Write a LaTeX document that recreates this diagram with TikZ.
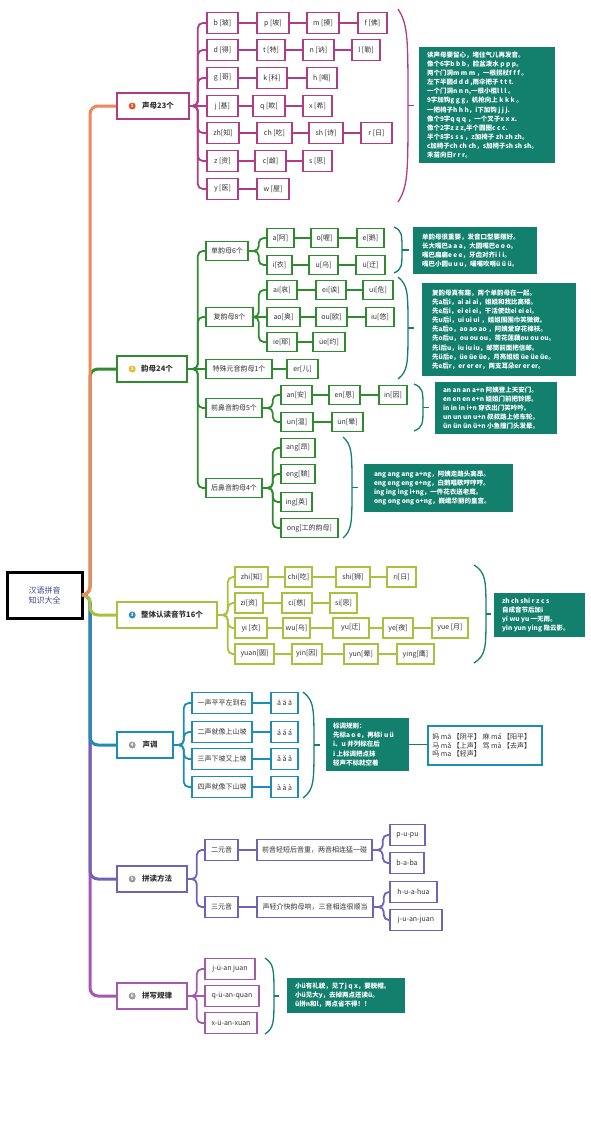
\documentclass[tikz,border=0pt]{standalone}
\usepackage{fontspec}
\setmainfont{Noto Sans CJK SC}
\definecolor{cOrange}{HTML}{F4875A}
\definecolor{cMag}{HTML}{B03C84}
\definecolor{cGreen}{HTML}{2E8B2E}
\definecolor{cLime}{HTML}{A9C13C}
\definecolor{cBlue}{HTML}{1E8DB6}
\definecolor{cPurple}{HTML}{6E63B6}
\definecolor{cViolet}{HTML}{A35AAE}
\definecolor{cTeal}{HTML}{13806E}
\definecolor{cText}{HTML}{333333}
\definecolor{cRoot}{HTML}{3E4496}
\definecolor{cIa}{HTML}{E5532D}
\definecolor{cIb}{HTML}{E8B82A}
\definecolor{cIc}{HTML}{2B8CC4}
\definecolor{cId}{HTML}{9A9A9A}
\tikzset{
 box/.style={draw, fill=white, line width=1.6pt, minimum height=20pt, inner sep=1pt, font=\fontsize{7}{8}\selectfont, text=cText},
 sbox/.style={box, draw=cMag, minimum height=21pt},
 ybox/.style={box, draw=cGreen, minimum height=19pt},
 zbox/.style={box, draw=cLime},
 dbox/.style={box, draw=cBlue, minimum height=21pt},
 pbox/.style={box, draw=cPurple, minimum height=21pt},
 xbox/.style={box, draw=cViolet, minimum height=21pt},
 lone/.style={box, minimum height=26pt, font=\fontsize{7.5}{9}\selectfont\bfseries},
 rootbox/.style={draw=black, fill=white, line width=3pt, minimum width=75pt, minimum height=46pt, align=center, text=cRoot, font=\fontsize{8}{10}\selectfont},
 gbox/.style={fill=cTeal, inner sep=0pt},
 gtext/.style={text=white, font=\fontsize{6.5}{9.1}\selectfont\bfseries, align=left, inner sep=0pt, anchor=west},
 ico/.style={circle, inner sep=0pt, minimum size=7pt, text=white, font=\fontsize{4.5}{5}\selectfont\bfseries},
 trunk/.style={line width=3pt, rounded corners=8pt},
 conn/.style={line width=1.8pt, rounded corners=5pt},
 brc/.style={line width=1.3pt},
}
\newcommand{\bx}[6]{\node[#1,minimum width={#4pt-#3pt}] (#2) at ({(#3+#4)/2},#5) {#6};}
\newcommand{\gb}[7]{\node[gbox,minimum width={#3pt-#2pt},minimum height={#5pt-#4pt}] (#1) at ({(#2+#3)/2},{(#4+#5)/2}) {};
 \node[gtext] (#1t) at ([xshift=#6pt]#1.west) {#7};}
\newcommand{\fork}[4]{\draw[#1] (#2.east) -- ([xshift=#3pt]#2.east) |- (#4.west);}
\newcommand{\mybrace}[6]{\draw[brc,#1] (#2,#4) .. controls ({#3},{#4+0.08*(#5-#4)}) and ({#3},{#4+0.15*(#5-#4)}) .. ({#3},{(#4+#5)/2}) .. controls ({#3},{#5-0.15*(#5-#4)}) and ({#3},{#5-0.08*(#5-#4)}) .. (#2,#5);
 \draw[brc,#1] ({#3},{(#4+#5)/2}) -- ({#6},{(#4+#5)/2});}
\begin{document}
\begin{tikzpicture}[x=1pt,y=-1pt]
\fill[white] (0,0) rectangle (591,1122);
\useasboundingbox (0,0) rectangle (591,1122);

% root
\node[rootbox] (root) at (44.5,595) {汉语拼音\\知识大全};

% level 1
\bx{lone,draw=cMag}{sm}{117}{189}{106}{\hspace{10pt}声母23个}
\bx{lone,draw=cGreen}{ym}{117}{187}{369}{\hspace{10pt}韵母24个}
\bx{lone,draw=cLime}{zt}{117}{217}{615}{\hspace{10pt}整体认读音节16个}
\bx{lone,draw=cBlue}{sd}{117}{173}{745}{\hspace{10pt}声调}
\bx{lone,draw=cPurple}{pd}{117}{187}{879}{\hspace{10pt}拼读方法}
\bx{lone,draw=cViolet}{px}{117}{187}{996}{\hspace{10pt}拼写规律}
\node[ico,fill=cIa] (ia) at ([xshift=16pt]sm.west) {1};
\node[ico,fill=cIb] (ib) at ([xshift=16pt]ym.west) {2};
\node[ico,fill=cIc] (ic) at ([xshift=16pt]zt.west) {3};
\node[ico,fill=cId] (id) at ([xshift=16pt]sd.west) {4};
\node[ico,fill=cId] (ie) at ([xshift=16pt]pd.west) {5};
\node[ico,fill=cId] (if) at ([xshift=16pt]px.west) {6};

% trunk
\draw[trunk,cViolet] (root.east) -- (90,595) |- (px.west);
\draw[trunk,cPurple] (root.east) -- (90,595) |- (pd.west);
\draw[trunk,cBlue] (root.east) -- (90,595) |- (sd.west);
\draw[trunk,cLime] (root.east) -- (90,595) |- (zt.west);
\draw[trunk,cGreen] (root.east) -- (90,595) |- (ym.west);
\draw[trunk,cOrange] (root.east) -- (90,595) |- (sm.west);

% ===== 声母 =====
\bx{sbox}{sA1}{207}{238}{23}{b [玻]}
\bx{sbox}{sA2}{257}{289}{23}{p [坡]}
\bx{sbox}{sA3}{307}{339}{23}{m [摸]}
\bx{sbox}{sA4}{358}{387}{23}{f [佛]}
\bx{sbox}{sB1}{207}{238}{50}{d [得]}
\bx{sbox}{sB2}{257}{285}{50}{t [特]}
\bx{sbox}{sB3}{303}{334}{50}{n [讷]}
\bx{sbox}{sB4}{352}{380}{50}{l [勒]}
\bx{sbox}{sC1}{207}{238}{78}{g [哥]}
\bx{sbox}{sC2}{257}{287}{78}{k [科]}
\bx{sbox}{sC3}{307}{337}{78}{h [喝]}
\bx{sbox}{sD1}{207}{238}{106}{j [基]}
\bx{sbox}{sD2}{253}{285}{106}{q [欺]}
\bx{sbox}{sD3}{303}{332}{106}{x [希]}
\bx{sbox}{sE1}{207}{239}{133}{zh[知]}
\bx{sbox}{sE2}{257}{292}{133}{ch [吃]}
\bx{sbox}{sE3}{309}{343}{133}{sh [诗]}
\bx{sbox}{sE4}{361}{392}{133}{r [日]}
\bx{sbox}{sF1}{207}{238}{161}{z [资]}
\bx{sbox}{sF2}{255}{286}{161}{c[雌]}
\bx{sbox}{sF3}{303}{332}{161}{s [思]}
\bx{sbox}{sG1}{207}{238}{189}{y [医]}
\bx{sbox}{sG2}{257}{289}{189}{w [屋]}
\foreach \c in {sA1,sB1,sC1,sE1,sF1,sG1} {\fork{conn,cMag}{sm}{8}{\c}}
\draw[conn,cMag] (sm.east) -- (sD1.west);
\draw[conn,cMag] (sA1) -- (sA2) -- (sA3) -- (sA4);
\draw[conn,cMag] (sB1) -- (sB2) -- (sB3) -- (sB4);
\draw[conn,cMag] (sC1) -- (sC2) -- (sC3);
\draw[conn,cMag] (sD1) -- (sD2) -- (sD3);
\draw[conn,cMag] (sE1) -- (sE2) -- (sE3) -- (sE4);
\draw[conn,cMag] (sF1) -- (sF2) -- (sF3);
\draw[conn,cMag] (sG1) -- (sG2);
\mybrace{cMag}{398}{408}{9}{202}{414}
\gb{ga}{419}{555}{47}{163}{8}{读声母要留心，堵住气儿再发音。\\像个6字b b b，脸盆泼水 p p p。\\两个门洞m m m ，一根拐杖f f f 。\\左下半圆d d d ,雨伞把子 t t t.\\一个门洞n n n,一根小棍l l l 。\\9字加钩g g g，机枪向上 k k k 。\\一把椅子h h h，i下加钩 j j j.\\像个9字q q q ，一个叉子x x x.\\像个2字z z z,半个圆圈c c c.\\半个8字s s s ，z加椅子 zh zh zh。\\c加椅子ch ch ch，s加椅子sh sh sh。\\禾苗向日r r r。}

% ===== 韵母 =====
\bx{ybox}{yd}{206}{248}{251}{单韵母6个}
\bx{ybox}{yf}{206}{253}{317}{复韵母8个}
\bx{ybox}{yt}{206}{272}{369}{特殊元音韵母1个}
\bx{ybox}{yq}{206}{262}{408}{前鼻音韵母5个}
\bx{ybox}{yh}{206}{262}{488}{后鼻音韵母4个}
\foreach \c in {yd,yf,yq,yh} {\fork{conn,cGreen}{ym}{10}{\c}}
\draw[conn,cGreen] (ym.east) -- (yt.west);

\bx{ybox}{ydA1}{267}{294}{238}{a[阿]}
\bx{ybox}{ydA2}{311}{338}{238}{o[喔]}
\bx{ybox}{ydA3}{357}{384}{238}{e[鹅]}
\bx{ybox}{ydB1}{267}{292}{265}{i[衣]}
\bx{ybox}{ydB2}{309}{338}{265}{u[乌]}
\bx{ybox}{ydB3}{356}{385}{265}{ü[迂]}
\bx{ybox}{yfA1}{267}{297}{290}{ai[哀]}
\bx{ybox}{yfA2}{316}{346}{290}{ei[诶]}
\bx{ybox}{yfA3}{363}{393}{290}{ui[危]}
\bx{ybox}{yfB1}{267}{300}{317}{ao[奥]}
\bx{ybox}{yfB2}{316}{347}{317}{ou[欧]}
\bx{ybox}{yfB3}{366}{394}{317}{iu[悠]}
\bx{ybox}{yfC1}{267}{297}{342}{ie[耶]}
\bx{ybox}{yfC2}{313}{345}{342}{üe[约]}
\bx{ybox}{yt1}{287}{318}{369}{er[儿]}
\bx{ybox}{yqA1}{281}{312}{395}{an[安]}
\bx{ybox}{yqA2}{329}{360}{395}{en[恩]}
\bx{ybox}{yqA3}{379}{407}{395}{in[因]}
\bx{ybox}{yqB1}{281}{313}{422}{un[温]}
\bx{ybox}{yqB2}{332}{363}{422}{ün[晕]}
\bx{ybox}{yh1}{281}{315}{448}{ang[昂]}
\bx{ybox}{yh2}{281}{315}{474}{eng[鞥]}
\bx{ybox}{yh3}{281}{312}{502}{ing[英]}
\bx{ybox}{yh4}{281}{338}{528}{ong[工的韵母]}
\foreach \c in {ydA1,ydB1} {\fork{conn,cGreen}{yd}{10}{\c}}
\foreach \c in {yfA1,yfC1} {\fork{conn,cGreen}{yf}{5}{\c}}
\draw[conn,cGreen] (yf.east) -- (yfB1.west);
\draw[conn,cGreen] (yt) -- (yt1);
\foreach \c in {yqA1,yqB1} {\fork{conn,cGreen}{yq}{10}{\c}}
\foreach \c in {yh1,yh2,yh3,yh4} {\fork{conn,cGreen}{yh}{10}{\c}}
\draw[conn,cGreen] (ydA1) -- (ydA2) -- (ydA3);
\draw[conn,cGreen] (ydB1) -- (ydB2) -- (ydB3);
\draw[conn,cGreen] (yfA1) -- (yfA2) -- (yfA3);
\draw[conn,cGreen] (yfB1) -- (yfB2) -- (yfB3);
\draw[conn,cGreen] (yfC1) -- (yfC2);
\draw[conn,cGreen] (yqA1) -- (yqA2) -- (yqA3);
\draw[conn,cGreen] (yqB1) -- (yqB2);

\mybrace{cTeal}{394}{402}{227}{273}{409}
\mybrace{cTeal}{398}{408}{277}{379}{414}
\mybrace{cTeal}{414}{423}{384}{431}{429}
\mybrace{cTeal}{343}{352}{437}{538}{358}
\gb{gb}{413}{537}{227}{274}{9}{单韵母很重要，发音口型要摆好。\\长大嘴巴a a a，大圆嘴巴o o o。\\嘴巴扁扁e e e，牙齿对齐i i i。\\嘴巴小圆u u u，嘬嘴吹哨ü ü ü。}
\gb{gc}{422}{576}{283}{376}{10}{复韵母真有趣，两个单韵母在一起。\\先a后i，ai ai ai，姐姐和我比高矮。\\先e后i，ei ei ei，干活使劲ei ei ei。\\先u后i，ui ui ui ，姐姐围围巾笑微微。\\先a后o，ao ao ao ，阿姨爱穿花棉袄。\\先o后u，ou ou ou，荷花莲藕ou ou ou。\\先i后u，iu iu iu，邮筒前面把信邮。\\先ü后e，üe üe üe，月亮姐姐 üe üe üe。\\先e后r，er er er，两支耳朵er er er。}
\gb{gd}{435}{557}{382}{434}{8}{an an an a+n 阿姨登上天安门。\\en en en e+n 姐姐门前把铃摁。\\in in in i+n 穿衣出门笑吟吟。\\un un un u+n 叔叔路上修车轮。\\ün ün ün ü+n 小鱼撞门头发晕。}
\gb{ge}{364}{513}{464}{512}{10}{ang ang ang a+ng，阿姨走路头高昂。\\eng eng eng e+ng，白鹅唱歌哼哼哼。\\ing ing ing i+ng，一件花衣送老鹰。\\ong ong ong o+ng，巍峨华丽的皇宫。}

% ===== 整体认读 =====
\bx{zbox}{zA1}{235}{268}{577}{zhi[知]}
\bx{zbox}{zA2}{285}{312}{577}{chi[吃]}
\bx{zbox}{zA3}{336}{370}{577}{shi[狮]}
\bx{zbox}{zA4}{387}{416}{577}{ri[日]}
\bx{zbox}{zB1}{235}{263}{603}{zi[资]}
\bx{zbox}{zB2}{282}{312}{603}{ci[慈]}
\bx{zbox}{zB3}{330}{357}{603}{si[思]}
\bx{zbox}{zC1}{235}{267}{628}{yi [衣]}
\bx{zbox}{zC2}{283}{310}{628}{wu[乌]}
\bx{zbox}{zC3}{333}{369}{628}{yu[迂]}
\bx{zbox}{zC4}{383}{413}{628}{ye[夜]}
\bx{zbox}{zC5}{432}{468}{628}{yue [月]}
\bx{zbox}{zD1}{235}{274}{654}{yuan[圆]}
\bx{zbox}{zD2}{292}{322}{654}{yin[因]}
\bx{zbox}{zD3}{344}{378}{654}{yun[晕]}
\bx{zbox}{zD4}{397}{434}{654}{ying[鹰]}
\foreach \c in {zA1,zB1,zC1,zD1} {\fork{conn,cLime}{zt}{10}{\c}}
\draw[conn,cLime] (zA1) -- (zA2) -- (zA3) -- (zA4);
\draw[conn,cLime] (zB1) -- (zB2) -- (zB3);
\draw[conn,cLime] (zC1) -- (zC2) -- (zC3) -- (zC4) -- (zC5);
\draw[conn,cLime] (zD1) -- (zD2) -- (zD3) -- (zD4);
\mybrace{cTeal}{474}{486}{565}{663}{491}
\gb{gf}{494}{585}{593}{637}{8}{zh ch shi r z c s\\自成音节后加i\\yi wu yu 一无雨。\\yin yun ying 隐云影。}

% ===== 声调 =====
\bx{dbox}{dt1}{192}{252}{703}{一声平平左到右}
\bx{dbox}{dt2}{192}{252}{732}{二声就像上山坡}
\bx{dbox}{dt3}{192}{252}{759}{三声下坡又上坡}
\bx{dbox}{dt4}{192}{252}{787}{四声就像下山坡}
\bx{dbox}{da1}{271}{298}{703}{ā ā ā}
\bx{dbox}{da2}{271}{298}{732}{á á á}
\bx{dbox}{da3}{271}{298}{759}{ǎ ǎ ǎ}
\bx{dbox}{da4}{271}{298}{787}{à à à}
\foreach \c in {dt1,dt2,dt3,dt4} {\fork{conn,cBlue}{sd}{10}{\c}}
\draw[conn,cBlue] (dt1) -- (da1);
\draw[conn,cBlue] (dt2) -- (da2);
\draw[conn,cBlue] (dt3) -- (da3);
\draw[conn,cBlue] (dt4) -- (da4);
\mybrace{cTeal}{303}{314}{692}{798}{320}
\gb{gg}{326}{409}{718}{771}{7}{标调规则：\\先标a o e，再标i u ü\\i、u 并列标在后\\i 上标调把点抹\\轻声不标就空着}
\node[draw=cBlue, fill=white, line width=1.6pt, minimum width=114pt, minimum height=39pt, inner sep=0pt] (wb) at (485,745.5) {};
\node[anchor=west, inner sep=0pt, align=left, text=cText, font=\fontsize{7}{8.5}\selectfont] (wbt) at ([xshift=5pt]wb.west) {妈 mā 【阴平】 麻 má 【阳平】\\马 mǎ 【上声】 骂 mà 【去声】\\吗 ma 【轻声】};
\draw[conn,cTeal] (gg.east) -- (gg.east -| wb.west);

% ===== 拼读方法 =====
\bx{pbox}{p2}{205}{238}{850}{二元音}
\bx{pbox}{p3}{205}{238}{907}{三元音}
\bx{pbox}{pd1}{257}{372}{850}{前音轻短后音重，两音相连猛一碰}
\bx{pbox}{pd2}{257}{373}{907}{声轻介快韵母响，三音相连很顺当}
\bx{pbox}{pA1}{390}{425}{835}{p-u-pu}
\bx{pbox}{pA2}{390}{424}{863}{b-a-ba}
\bx{pbox}{pB1}{390}{437}{892}{h-u-a-hua}
\bx{pbox}{pB2}{390}{442}{920}{j-u-an-juan}
\foreach \c in {p2,p3} {\fork{conn,cPurple}{pd}{9}{\c}}
\draw[conn,cPurple] (p2) -- (pd1);
\draw[conn,cPurple] (p3) -- (pd2);
\foreach \c in {pA1,pA2} {\fork{conn,cPurple}{pd1}{10}{\c}}
\foreach \c in {pB1,pB2} {\fork{conn,cPurple}{pd2}{10}{\c}}

% ===== 拼写规律 =====
\bx{xbox}{x1}{205}{255}{969}{j-ü-an juan}
\bx{xbox}{x2}{205}{259}{996}{q-ü-an-quan}
\bx{xbox}{x3}{205}{257}{1023}{x-ü-an-xuan}
\foreach \c in {x1,x3} {\fork{conn,cViolet}{px}{9}{\c}}
\draw[conn,cViolet] (px.east) -- (x2.west);
\mybrace{cTeal}{265}{274}{958}{1034}{279}
\gb{gh}{287}{405}{978}{1013}{8}{小ü有礼貌，见了j q x，要脱帽。\\小ü见大y，去掉两点还读ü。\\ü拼n和l，两点省不得！！}
\end{tikzpicture}
\end{document}
